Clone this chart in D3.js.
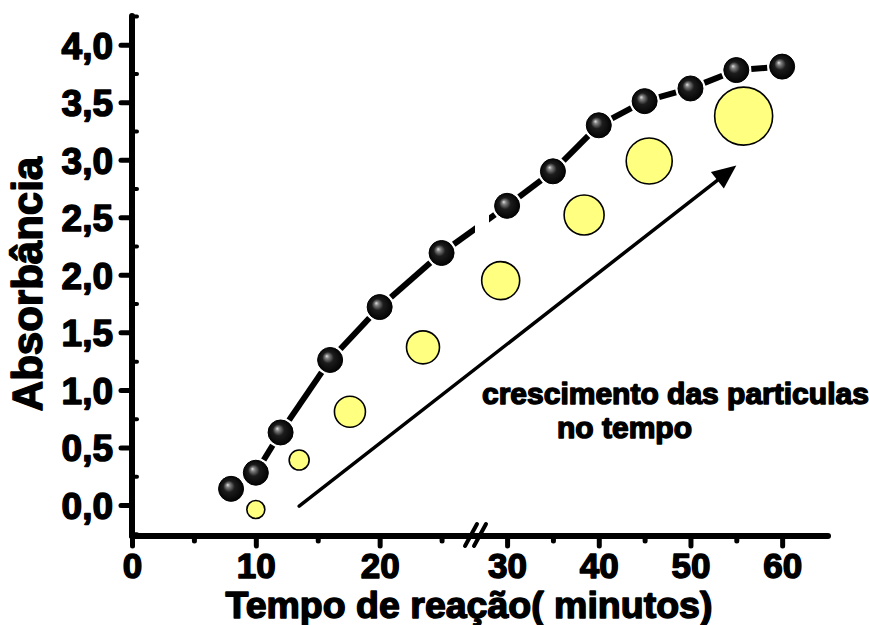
<!DOCTYPE html>
<html><head><meta charset="utf-8">
<script src="https://cdn.jsdelivr.net/npm/d3@7"></script>
<style>
body{margin:0;background:#fff}
.t{font-family:"Liberation Sans",Arial,sans-serif;font-weight:bold;fill:#000;stroke:#000;stroke-width:1.5px;stroke-linejoin:round}
</style>
</head><body>
<svg id="chart" width="869" height="625"></svg>
<script>
// ---- data ----
const timeMinutes = [8,10,12,16,20,25,30,35,40,45,50,55,60];
const absorbance  = [0.14,0.28,0.63,1.26,1.72,2.19,2.60,2.90,3.30,3.51,3.62,3.78,3.81];
const particleTime = [10,13.5,17.6,23.5,29.3,38.4,45.5,55.8];
const particleAbs  = [-0.04,0.39,0.81,1.37,1.95,2.52,2.99,3.38];
const particleSize = [9,10,15.5,16.5,19,20,23,29];
const yTickValues = [0,0.5,1,1.5,2,2.5,3,3.5,4];
const yTickLabels = ["0,0","0,5","1,0","1,5","2,0","2,5","3,0","3,5","4,0"];
const yMinorValues = [-0.25,0.25,0.75,1.25,1.75,2.25,2.75,3.25,3.75,4.25];
const xTickLeft = [0,10,20];
const xTickRight = [30,40,50,60];
const xMinorLeft = [5,15,25];
const xMinorRight = [35,45,55];
const xTitle = "Tempo de reação( minutos)";
const yTitle = "Absorbância";
const annotationLines = ["crescimento das particulas","no tempo"];
const arrowFrom = [13.5,-0.01];
const arrowTo = [55.0,2.95];

// ---- scales ----
const W = 869, H = 625;
const breakLeftEnd = 27.7, breakRightStart = 26.5;
const xL = d3.scaleLinear().domain([0, breakLeftEnd]).range([132, 475]);
const xR = d3.scaleLinear().domain([breakRightStart, 65]).range([475, 828]);
const x = v => v <= breakLeftEnd ? xL(v) : xR(v);
const y = d3.scaleLinear().domain([-0.27, 4.25]).range([536, 16]);

const svg = d3.select("#chart");
svg.append("rect").attr("width",W).attr("height",H).attr("fill","#fff");
const defs = svg.append("defs");
const g = defs.append("radialGradient").attr("id","ball")
  .attr("cx","50%").attr("cy","50%").attr("r","55%").attr("fx","36%").attr("fy","34%");
g.append("stop").attr("offset","0%").attr("stop-color","#e0e0e0");
g.append("stop").attr("offset","15%").attr("stop-color","#808080");
g.append("stop").attr("offset","42%").attr("stop-color","#1c1c1c");
g.append("stop").attr("offset","100%").attr("stop-color","#000");

const clip = defs.append("clipPath").attr("id","brk");
clip.append("rect").attr("x",0).attr("y",0).attr("width",475).attr("height",H);
clip.append("rect").attr("x",489).attr("y",0).attr("width",W-489).attr("height",H);

// ---- axes ----
const axX0 = y(y.domain()[0]);
function styleAxis(sel, tw){
  sel.select(".domain").remove();
  sel.selectAll(".tick line").attr("stroke","#000").attr("stroke-width",tw).attr("stroke-linecap","round");
}
[[xL,xTickLeft],[xR,xTickRight]].forEach(([sc,vals])=>{
  const a = svg.append("g").attr("transform",`translate(0,${axX0})`)
    .call(d3.axisBottom(sc).tickValues(vals).tickSize(10).tickPadding(7).tickFormat(d3.format("d")));
  styleAxis(a,5);
  a.selectAll("text").attr("class","t").style("font-size","35px");
});
[[xL,xMinorLeft],[xR,xMinorRight]].forEach(([sc,vals])=>{
  const a = svg.append("g").attr("transform",`translate(0,${axX0})`)
    .call(d3.axisBottom(sc).tickValues(vals).tickSize(5).tickFormat(""));
  styleAxis(a,5);
});
svg.append("line").attr("x1",xL(0)).attr("x2",xR(65)).attr("y1",axX0).attr("y2",axX0)
  .attr("stroke","#000").attr("stroke-width",6).attr("stroke-linecap","round");
[0,9].forEach(off=>{
  svg.append("line").attr("x1",465+off).attr("y1",546).attr("x2",477+off).attr("y2",524)
    .attr("stroke","#000").attr("stroke-width",4).attr("stroke-linecap","round");
});

const ay = svg.append("g").attr("transform",`translate(${xL(0)},0)`)
  .call(d3.axisLeft(y).tickValues(yTickValues).tickSize(11).tickPadding(8)
    .tickFormat((d,i)=>yTickLabels[i]));
styleAxis(ay,5);
ay.selectAll("text").attr("class","t").style("font-size","37px").attr("dy","0.36em");
const aym = svg.append("g").attr("transform",`translate(${xL(0)},0)`)
  .call(d3.axisRight(y).tickValues(yMinorValues).tickSize(5).tickFormat(""));
styleAxis(aym,4);
svg.append("line").attr("x1",xL(0)).attr("x2",xL(0)).attr("y1",y(4.25)).attr("y2",axX0)
  .attr("stroke","#000").attr("stroke-width",6).attr("stroke-linecap","round");

svg.append("text").attr("class","t").attr("x",469).attr("y",618)
  .attr("text-anchor","middle").style("font-size","37.5px").text(xTitle);
svg.append("text").attr("class","t").attr("transform","translate(42,284) rotate(-90)")
  .attr("text-anchor","middle").style("font-size","42px").text(yTitle);

// ---- connecting line with gaps to symbols ----
const pts = timeMinutes.map((t,i)=>[x(t), y(absorbance[i])]);
const gap = 15;
const segs = [];
for(let i=0;i<pts.length-1;i++){
  const [x1,y1]=pts[i],[x2,y2]=pts[i+1];
  const dx=x2-x1, dy=y2-y1, d=Math.hypot(dx,dy);
  if(d>2*gap){ const ux=dx/d, uy=dy/d;
    segs.push([[x1+ux*gap,y1+uy*gap],[x2-ux*gap,y2-uy*gap]]); }
}
svg.append("g").attr("clip-path","url(#brk)").selectAll("path").data(segs).join("path")
  .attr("d",d3.line()).attr("stroke","#000").attr("stroke-width",6).attr("fill","none");

svg.append("g").selectAll("circle").data(particleTime).join("circle")
  .attr("cx",(d)=>x(d)).attr("cy",(d,i)=>y(particleAbs[i])).attr("r",(d,i)=>particleSize[i])
  .attr("fill","#ffff80").attr("stroke","#000").attr("stroke-width",1.6);

svg.append("g").selectAll("circle").data(timeMinutes).join("circle")
  .attr("cx",d=>x(d)).attr("cy",(d,i)=>y(absorbance[i])).attr("r",12.5)
  .attr("fill","url(#ball)").attr("stroke","#000").attr("stroke-width",1);

const ax1=x(arrowFrom[0]), ay1=y(arrowFrom[1]), ax2=x(arrowTo[0]), ay2=y(arrowTo[1]);
const ang=Math.atan2(ay2-ay1, ax2-ax1), hl=24, hw=10.5;
const bx=ax2-Math.cos(ang)*hl, by=ay2-Math.sin(ang)*hl;
svg.append("line").attr("x1",ax1).attr("y1",ay1).attr("x2",bx+Math.cos(ang)*4).attr("y2",by+Math.sin(ang)*4)
  .attr("stroke","#000").attr("stroke-width",3.5).attr("stroke-linecap","round");
svg.append("path").attr("d",d3.line()([[ax2,ay2],[bx-Math.sin(ang)*hw,by+Math.cos(ang)*hw],[bx+Math.sin(ang)*hw,by-Math.cos(ang)*hw]])+"Z")
  .attr("fill","#000");

svg.append("text").attr("class","t").attr("x",482).attr("y",404).style("font-size","30px").text(annotationLines[0]);
svg.append("text").attr("class","t").attr("x",557).attr("y",438).style("font-size","30px").text(annotationLines[1]);
</script>
</body></html>
